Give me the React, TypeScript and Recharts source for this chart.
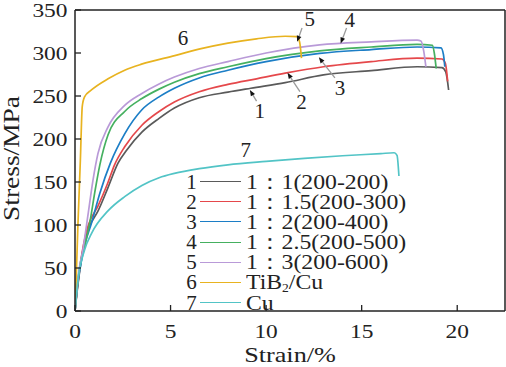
import React from 'react';
import { LineChart, Line, XAxis, YAxis, ReferenceLine, ReferenceDot, Legend } from 'recharts';

const FONT = "'Liberation Serif', 'Times New Roman', serif";
const INK = '#222';

const xTicks = [0, 5, 10, 15, 20];
const yTicks = [0, 50, 100, 150, 200, 250, 300, 350];

// [strain %, stress MPa]
const curve1 = [[0, 0], [0.15, 30], [0.35, 62], [0.55, 85], [0.75, 98], [1.2, 116], [1.7, 142], [2.25, 172], [2.7, 187], [3.5, 208], [4.4, 224], [5.2, 236], [6.5, 248], [8, 254.5], [9.2, 259], [11, 265.5], [13, 274.5], [15.5, 279.5], [17.9, 284], [19.2, 283], [19.4, 278], [19.55, 257]];
const curve2 = [[0, 0], [0.15, 32], [0.35, 65], [0.55, 88], [0.7, 100], [1.2, 122], [1.7, 148], [2.07, 170], [2.6, 191], [3.5, 216], [4.4, 232], [5.2, 243], [6.5, 255], [8, 263.5], [9.5, 270], [11, 276.5], [13, 284], [15.5, 290], [17.9, 294], [19.2, 293], [19.38, 288], [19.5, 267]];
const curve3 = [[0, 0], [0.15, 33], [0.35, 60], [0.55, 80], [0.86, 102], [1.3, 137], [1.85, 172], [2.6, 206], [3.5, 234], [4.4, 249], [5.2, 259], [6.5, 271], [8, 280], [10, 290], [12.8, 299.5], [15.5, 304], [17.9, 307], [19.15, 306], [19.28, 298], [19.35, 284]];
const curve4 = [[0, 0], [0.15, 35], [0.3, 58], [0.5, 75], [0.8, 106], [1.05, 140], [1.3, 170], [1.73, 205], [2.6, 232], [3.5, 247], [4.4, 258], [5.2, 266], [6.5, 276], [8, 284], [10, 293.5], [12.8, 302.5], [15.5, 307], [17.9, 310], [18.7, 309], [18.8, 300], [18.9, 282]];
const curve5 = [[0, 0], [0.15, 38], [0.42, 72], [0.7, 115], [0.94, 152], [1.2, 183], [1.73, 214], [2.6, 239], [3.5, 253], [4.4, 264], [5.2, 272], [6.5, 282], [8, 290], [10, 300], [12.8, 309.5], [15.5, 313], [17.9, 315], [18.1, 314], [18.25, 302], [18.36, 284]];
const curve6 = [[0, 0], [0.08, 50], [0.15, 98], [0.28, 175], [0.38, 238], [0.5, 249], [0.86, 257], [1.73, 270], [2.6, 280], [3.48, 287], [5.22, 297], [6.6, 305], [8, 311.5], [9.5, 316.5], [11, 319.5], [11.6, 319], [11.75, 313], [11.85, 294]];
const curve7 = [[0, 0], [0.15, 35], [0.5, 71], [0.86, 90], [1.75, 117], [2.6, 133], [3.5, 146], [4.4, 155], [5.2, 160], [6.5, 165.5], [8, 170], [10, 174], [12, 177.5], [14, 180.5], [16, 183], [16.7, 184], [16.85, 181], [16.95, 157]];

const seriesIds = ['1', '2', '3', '4', '5', '6', '7'];
const seriesNames = ['1：1(200-200)', '1：1.5(200-300)', '1：2(200-400)', '1：2.5(200-500)', '1：3(200-600)', 'TiB2/Cu', 'Cu'];
const seriesColors = ['#5a5a5a', '#e5484b', '#1c7ec6', '#45b060', '#b99ad8', '#e8b320', '#52c4c6'];
const curves = [curve1, curve2, curve3, curve4, curve5, curve6, curve7];

// curve number labels and their leader lines (data coords)
const tagPos = [[9.67, 232], [11.85, 243], [13.86, 259], [14.38, 338], [12.28, 340], [5.65, 318], [8.93, 187]];
const leaders = [
  [[9.5, 244], [9.15, 257]],
  [[11.77, 255], [11.12, 277]],
  [[13.6, 271], [12.76, 295]],
  [[14.21, 329], [13.9, 311]],
  [[11.88, 329], [11.62, 313]],
];

const toPoints = (c: number[][]) => c.map(([x, y]) => ({ x, y }));

const XTick = ({ x, y, payload }: any) => (
  <g>
    <line x1={x} y1={y} x2={x} y2={y - 6} stroke={INK} strokeWidth={1.3} />
    <text transform={`translate(${x},${y + 27}) scale(1.2,1)`} textAnchor="middle" fontFamily={FONT} fontSize={19.5} fill={INK}>
      {payload.value}
    </text>
  </g>
);

const YTick = ({ x, y, payload }: any) => (
  <g>
    <line x1={x} y1={y} x2={x + 6} y2={y} stroke={INK} strokeWidth={1.3} />
    <text transform={`translate(${x - 7.5},${y + 6.6}) scale(1.2,1)`} textAnchor="end" fontFamily={FONT} fontSize={19.5} fill={INK}>
      {payload.value}
    </text>
  </g>
);

const LeaderShape = (props: any) => {
  const { x1, y1, x2, y2 } = props;
  const a = Math.atan2(y2 - y1, x2 - x1);
  const bx = x2 - 6 * Math.cos(a);
  const by = y2 - 6 * Math.sin(a);
  const w = 2.4;
  const pts = `${x2},${y2} ${bx - w * Math.sin(a)},${by + w * Math.cos(a)} ${bx + w * Math.sin(a)},${by - w * Math.cos(a)}`;
  return (
    <g>
      <line x1={x1} y1={y1} x2={bx} y2={by} stroke="#9a9a9a" strokeWidth={1.3} />
      <polygon points={pts} fill="#111" />
    </g>
  );
};

const legendName = (n: string) =>
  n === 'TiB2/Cu' ? (
    <>
      TiB<sub style={{ fontSize: 12, verticalAlign: -3, lineHeight: 0 }}>2</sub>/Cu
    </>
  ) : (
    n
  );

const LegendBox = () => (
  <div style={{ fontFamily: FONT, fontSize: 21, color: INK }}>
    {seriesNames.map((n, i) => (
      <div key={n} style={{ display: 'flex', alignItems: 'center', height: 20.2, lineHeight: '20.2px' }}>
        <span style={{ width: 15, textAlign: 'center', display: 'inline-block' }}>{seriesIds[i]}</span>
        <span style={{ width: 41, height: 0, borderTop: `1.6px solid ${seriesColors[i]}`, margin: '0 5px 0 1px' }} />
        <span style={{ display: 'inline-block', whiteSpace: 'nowrap', transform: 'scaleX(1.13)', transformOrigin: 'left center' }}>
          {legendName(n)}
        </span>
      </div>
    ))}
  </div>
);

export default function App() {
  return (
    <div style={{ position: 'absolute', left: 0, top: 0, background: '#fff' }}>
      <LineChart width={506} height={367} margin={{ top: 10, right: 1, bottom: 0, left: 0 }}>
        <XAxis
          dataKey="x"
          type="number"
          domain={[0, 22.5]}
          ticks={xTicks}
          allowDataOverflow
          height={56}
          tickSize={0}
          tickMargin={0}
          tickLine={false}
          axisLine={{ stroke: INK, strokeWidth: 1.5 }}
          tick={<XTick />}
          label={{
            content: () => (
              <text transform="translate(290,361.5) scale(1.22,1)" textAnchor="middle" fontFamily={FONT} fontSize={21.5} fill={INK}>
                Strain/%
              </text>
            ),
          }}
        />
        <YAxis
          type="number"
          domain={[0, 350]}
          ticks={yTicks}
          allowDataOverflow
          width={75}
          tickSize={0}
          tickMargin={0}
          tickLine={false}
          axisLine={{ stroke: INK, strokeWidth: 1.5 }}
          tick={<YTick />}
          label={{
            content: () => (
              <text transform="translate(18.5,158.5) rotate(-90) scale(1.22,1)" textAnchor="middle" fontFamily={FONT} fontSize={22.5} fill={INK}>
                Stress/MPa
              </text>
            ),
          }}
        />
        <ReferenceLine y={350} stroke={INK} strokeWidth={1.5} />
        <ReferenceLine x={22.5} stroke={INK} strokeWidth={1.5} />
        {curves.map((c, i) => (
          <Line
            key={seriesIds[i]}
            data={toPoints(c)}
            dataKey="y"
            name={seriesNames[i]}
            type="monotone"
            stroke={seriesColors[i]}
            strokeWidth={1.7}
            dot={false}
            activeDot={false}
            isAnimationActive={false}
          />
        ))}
        {leaders.map((l, i) => (
          <ReferenceLine
            key={`ld${i}`}
            segment={[{ x: l[0][0], y: l[0][1] }, { x: l[1][0], y: l[1][1] }]}
            shape={<LeaderShape />}
          />
        ))}
        {tagPos.map((p, i) => (
          <ReferenceDot
            key={`tag${i}`}
            x={p[0]}
            y={p[1]}
            r={0}
            shape={(props: any) => (
              <text x={props.cx} y={props.cy + 7} textAnchor="middle" fontFamily={FONT} fontSize={21} fill={INK}>
                {seriesIds[i]}
              </text>
            )}
          />
        ))}
        <Legend
          layout="horizontal"
          verticalAlign="middle"
          align="center"
          wrapperStyle={{ left: 184, top: 171.5, width: 240 }}
          content={() => <LegendBox />}
        />
      </LineChart>
    </div>
  );
}
